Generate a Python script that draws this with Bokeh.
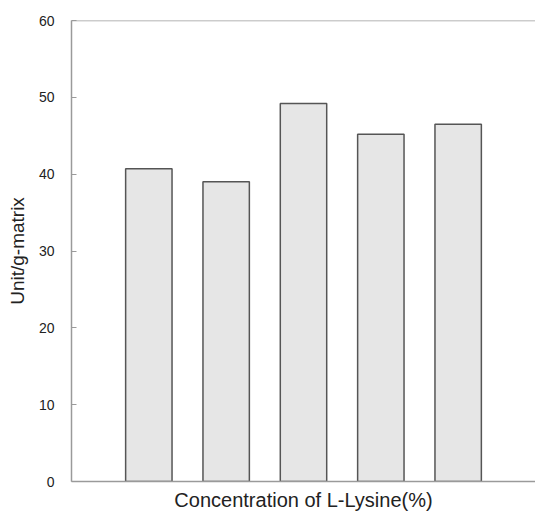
from bokeh.plotting import figure
from bokeh.models import Range1d, FixedTicker, Span
from bokeh.embed import file_html
from bokeh.resources import INLINE

# L-Lysine concentration groups (positions along the x axis) and enzyme activity
groups = [1, 2, 3, 4, 5]
activity = [40.7, 39.0, 49.2, 45.2, 46.5]
y_ticks = [0, 10, 20, 30, 40, 50, 60]

p = figure(width=535, height=513, output_backend="svg", toolbar_location=None,
           x_range=Range1d(0, 6), y_range=Range1d(0, 60),
           min_border_left=71, min_border_top=20, min_border_bottom=31,
           min_border_right=0)

p.vbar(x=groups, top=activity, width=0.6, bottom=0,
       fill_color="#e6e6e6", line_color="#555555", line_width=1.5)

p.grid.visible = False
p.outline_line_color = None
p.background_fill_color = "white"
p.border_fill_color = "white"

# top frame line
p.add_layout(Span(location=60, dimension="width", line_color="#9a9a9a", line_width=1.5))

yax = p.yaxis[0]
yax.ticker = FixedTicker(ticks=y_ticks)
yax.axis_line_color = "#9a9a9a"
yax.axis_line_width = 1.5
yax.major_tick_in = 5
yax.major_tick_out = 0
yax.major_tick_line_color = "#9a9a9a"
yax.minor_tick_line_color = None
yax.major_label_standoff = 17
yax.major_label_text_font = "Liberation Sans"
yax.major_label_text_font_size = "14px"
yax.major_label_text_color = "#222222"
yax.axis_label = "Unit/g-matrix"
yax.axis_label_text_font = "Liberation Sans"
yax.axis_label_text_font_style = "normal"
yax.axis_label_text_font_size = "19px"
yax.axis_label_text_color = "#222222"
yax.axis_label_standoff = 8

xax = p.xaxis[0]
xax.ticker = FixedTicker(ticks=[])
xax.axis_line_color = "#9a9a9a"
xax.axis_line_width = 1.5
xax.major_tick_line_color = None
xax.minor_tick_line_color = None
xax.major_label_text_font_size = "0px"
xax.axis_label = "Concentration of L-Lysine(%)"
xax.axis_label_text_font = "Liberation Sans"
xax.axis_label_text_font_style = "normal"
xax.axis_label_text_font_size = "20px"
xax.axis_label_text_color = "#222222"
xax.axis_label_standoff = 7

open("out.html", "w").write(file_html(p, INLINE))
